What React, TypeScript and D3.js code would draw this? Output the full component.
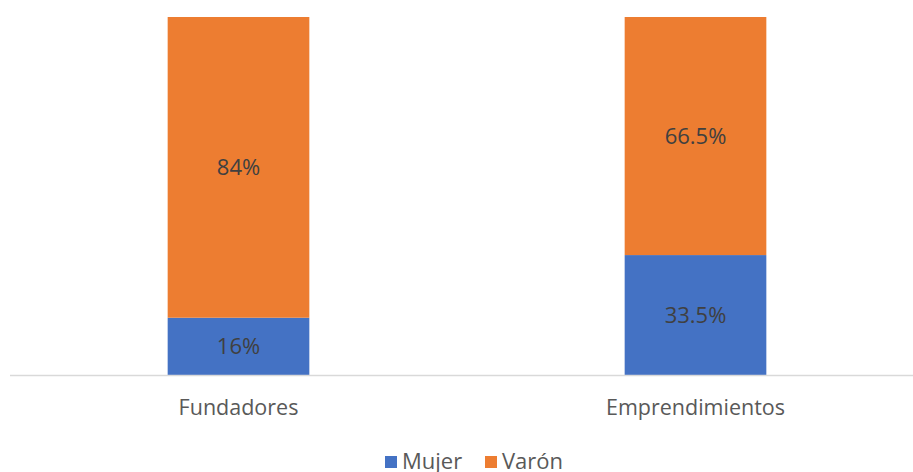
import React, { useEffect, useRef } from "react";
import * as d3 from "d3";

const categories = ["Fundadores", "Emprendimientos"];
const mujer = [16, 33.5];
const varon = [84, 66.5];
const seriesNames = ["Mujer", "Varón"];
const seriesColors = ["#4472c4", "#ed7d31"];

export default function App() {
  const ref = useRef<SVGSVGElement>(null);

  useEffect(() => {
    const width = 913;
    const svg = d3.select(ref.current);
    svg.selectAll("*").remove();

    const font = "'Open Sans', sans-serif";

    var x = d3
      .scaleBand()
      .domain(categories)
      .range([10, 924])
      .paddingInner(0.69)
      .paddingOuter(0.345);
    var y = d3.scaleLinear().domain([0, 100]).range([375, 17]);

    const rows = categories.map((c, i) => ({ cat: c, Mujer: mujer[i], Varón: varon[i] }));
    const stacked = d3.stack<any>().keys(seriesNames)(rows);

    const g = svg.append("g");
    stacked.forEach((layer, si) => {
      g.selectAll(".bar" + si)
        .data(layer)
        .enter()
        .append("rect")
        .attr("x", (d: any) => x(d.data.cat)!)
        .attr("y", (d: any) => y(d[1]))
        .attr("width", x.bandwidth())
        .attr("height", (d: any) => y(d[0]) - y(d[1]))
        .attr("fill", seriesColors[si]);

      g.selectAll(".lbl" + si)
        .data(layer)
        .enter()
        .append("text")
        .attr("x", (d: any) => x(d.data.cat)! + x.bandwidth() / 2)
        .attr("y", (d: any) => (y(d[0]) + y(d[1])) / 2)
        .attr("dy", "0.36em")
        .attr("text-anchor", "middle")
        .attr("font-family", font)
        .attr("font-size", 22)
        .attr("fill", "#404040")
        .text((d: any) => String(d[1] - d[0]) + "%");
    });

    // axis line
    svg
      .append("line")
      .attr("x1", 10)
      .attr("x2", width)
      .attr("y1", 375.5)
      .attr("y2", 375.5)
      .attr("stroke", "#d9d9d9")
      .attr("stroke-width", 1.5);

    svg
      .selectAll(".cat")
      .data(categories)
      .enter()
      .append("text")
      .attr("x", (d) => x(d)! + x.bandwidth() / 2)
      .attr("y", 415)
      .attr("text-anchor", "middle")
      .attr("font-family", font)
      .attr("font-size", 21.5)
      .attr("fill", "#595959")
      .text((d) => d);

    // legend
    const legendX = [385, 485];
    seriesNames.forEach((name, i) => {
      svg
        .append("rect")
        .attr("x", legendX[i])
        .attr("y", 456)
        .attr("width", 12)
        .attr("height", 12)
        .attr("fill", seriesColors[i]);
      svg
        .append("text")
        .attr("x", legendX[i] + 17)
        .attr("y", 469)
        .attr("font-family", font)
        .attr("font-size", 22)
        .attr("fill", "#595959")
        .text(name);
    });
  }, []);

  return (
    <svg
      ref={ref}
      width={913}
      height={472}
      style={{ position: "absolute", left: 0, top: 0, background: "#fff" }}
    />
  );
}
